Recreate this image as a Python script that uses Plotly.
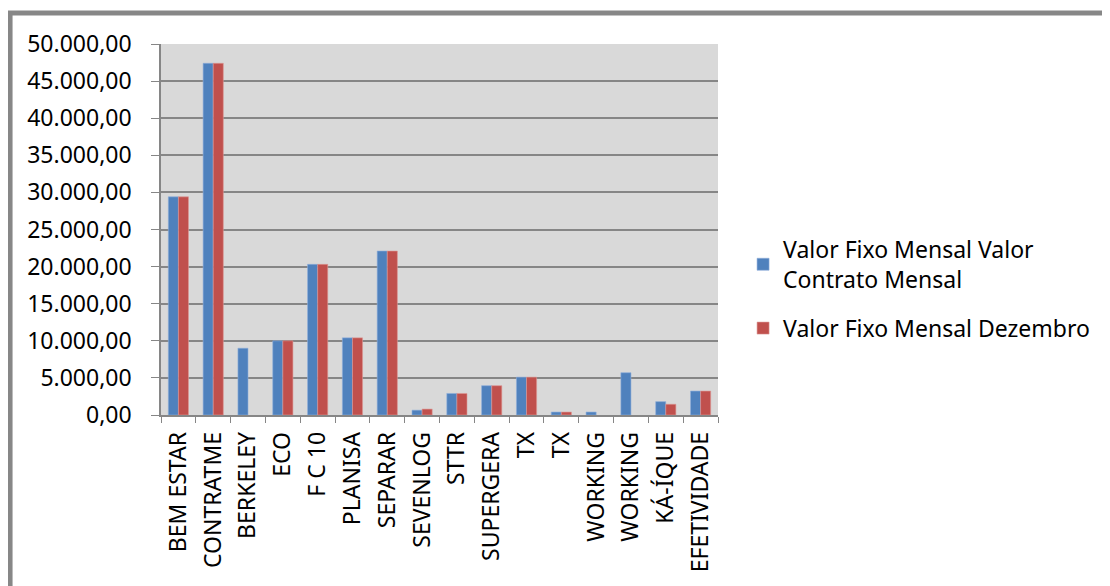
import plotly.graph_objects as go

categories = ["BEM ESTAR", "CONTRATME", "BERKELEY", "ECO", "F C 10", "PLANISA", "SEPARAR",
              "SEVENLOG", "STTR", "SUPERGERA", "TX", "TX", "WORKING", "WORKING", "KÁ-ÍQUE", "EFETIVIDADE"]
serie_contrato = [29400, 47400, 9000, 10000, 20300, 10400, 22100, 650, 2900, 3950, 5100, 400, 400, 5700, 1800, 3230]
serie_dezembro = [29400, 47400, None, 10000, 20300, 10400, 22100, 800, 2900, 3950, 5100, 400, None, None, 1450, 3230]
name_contrato = "Valor Fixo Mensal Valor<br>Contrato Mensal"
name_dezembro = "Valor Fixo Mensal Dezembro"

# make duplicate category labels unique with zero-width spaces (display unchanged)
seen = {}
cats = []
for c in categories:
    n = seen.get(c, 0)
    cats.append(c + "\u200b" * n)
    seen[c] = n + 1

FONT = "Noto Sans"
FS = 23
fig = go.Figure()
fig.add_trace(go.Bar(x=cats, y=serie_contrato, name=name_contrato, legendgroup="a",
                     marker=dict(color="#4f81bd", line=dict(color="#8eaedb", width=0.6))))
fig.add_trace(go.Bar(x=cats, y=serie_dezembro, name=name_dezembro, legendgroup="b",
                     marker=dict(color="#c0504d", line=dict(color="#dd9896", width=0.6))))

# page body has an 8px margin: figure is offset by 8px, so compensate
fig.update_layout(
    width=1102, height=578,
    margin=dict(l=153, r=392, t=36, b=171),
    paper_bgcolor="white", plot_bgcolor="#d9d9d9",
    barmode="group", bargap=0.42, bargroupgap=0,
    separators=",.",
    font=dict(family=FONT, size=FS, color="black"),
    legend=dict(x=1.045, y=0.34, xanchor="left", yanchor="middle",
                font=dict(family=FONT, size=FS), traceorder="grouped",
                tracegroupgap=16, bgcolor="rgba(0,0,0,0)"),
    showlegend=True,
)
fig.update_xaxes(type="category", tickangle=-90, ticks="outside", tickson="boundaries",
                 ticklen=6, tickcolor="#868686", showline=True, linecolor="#868686", linewidth=1.5,
                 showgrid=False, tickfont=dict(family=FONT, size=FS), ticklabelstandoff=6)
fig.update_yaxes(range=[0, 50000], dtick=5000, tickformat=",.2f", ticks="outside", ticklen=8,
                 tickcolor="#868686", showline=True, linecolor="#868686", linewidth=1.5,
                 showgrid=True, gridcolor="#868686", gridwidth=1.5, zeroline=False,
                 tickfont=dict(family=FONT, size=FS), ticklabelstandoff=15)

fig.add_shape(type="rect", xref="paper", yref="paper",
              x0=-0.271, x1=2.0, y0=-1.0, y1=1.0836,
              line=dict(color="#878787", width=5), fillcolor="rgba(0,0,0,0)", layer="below")

fig.write_html("out.html")
